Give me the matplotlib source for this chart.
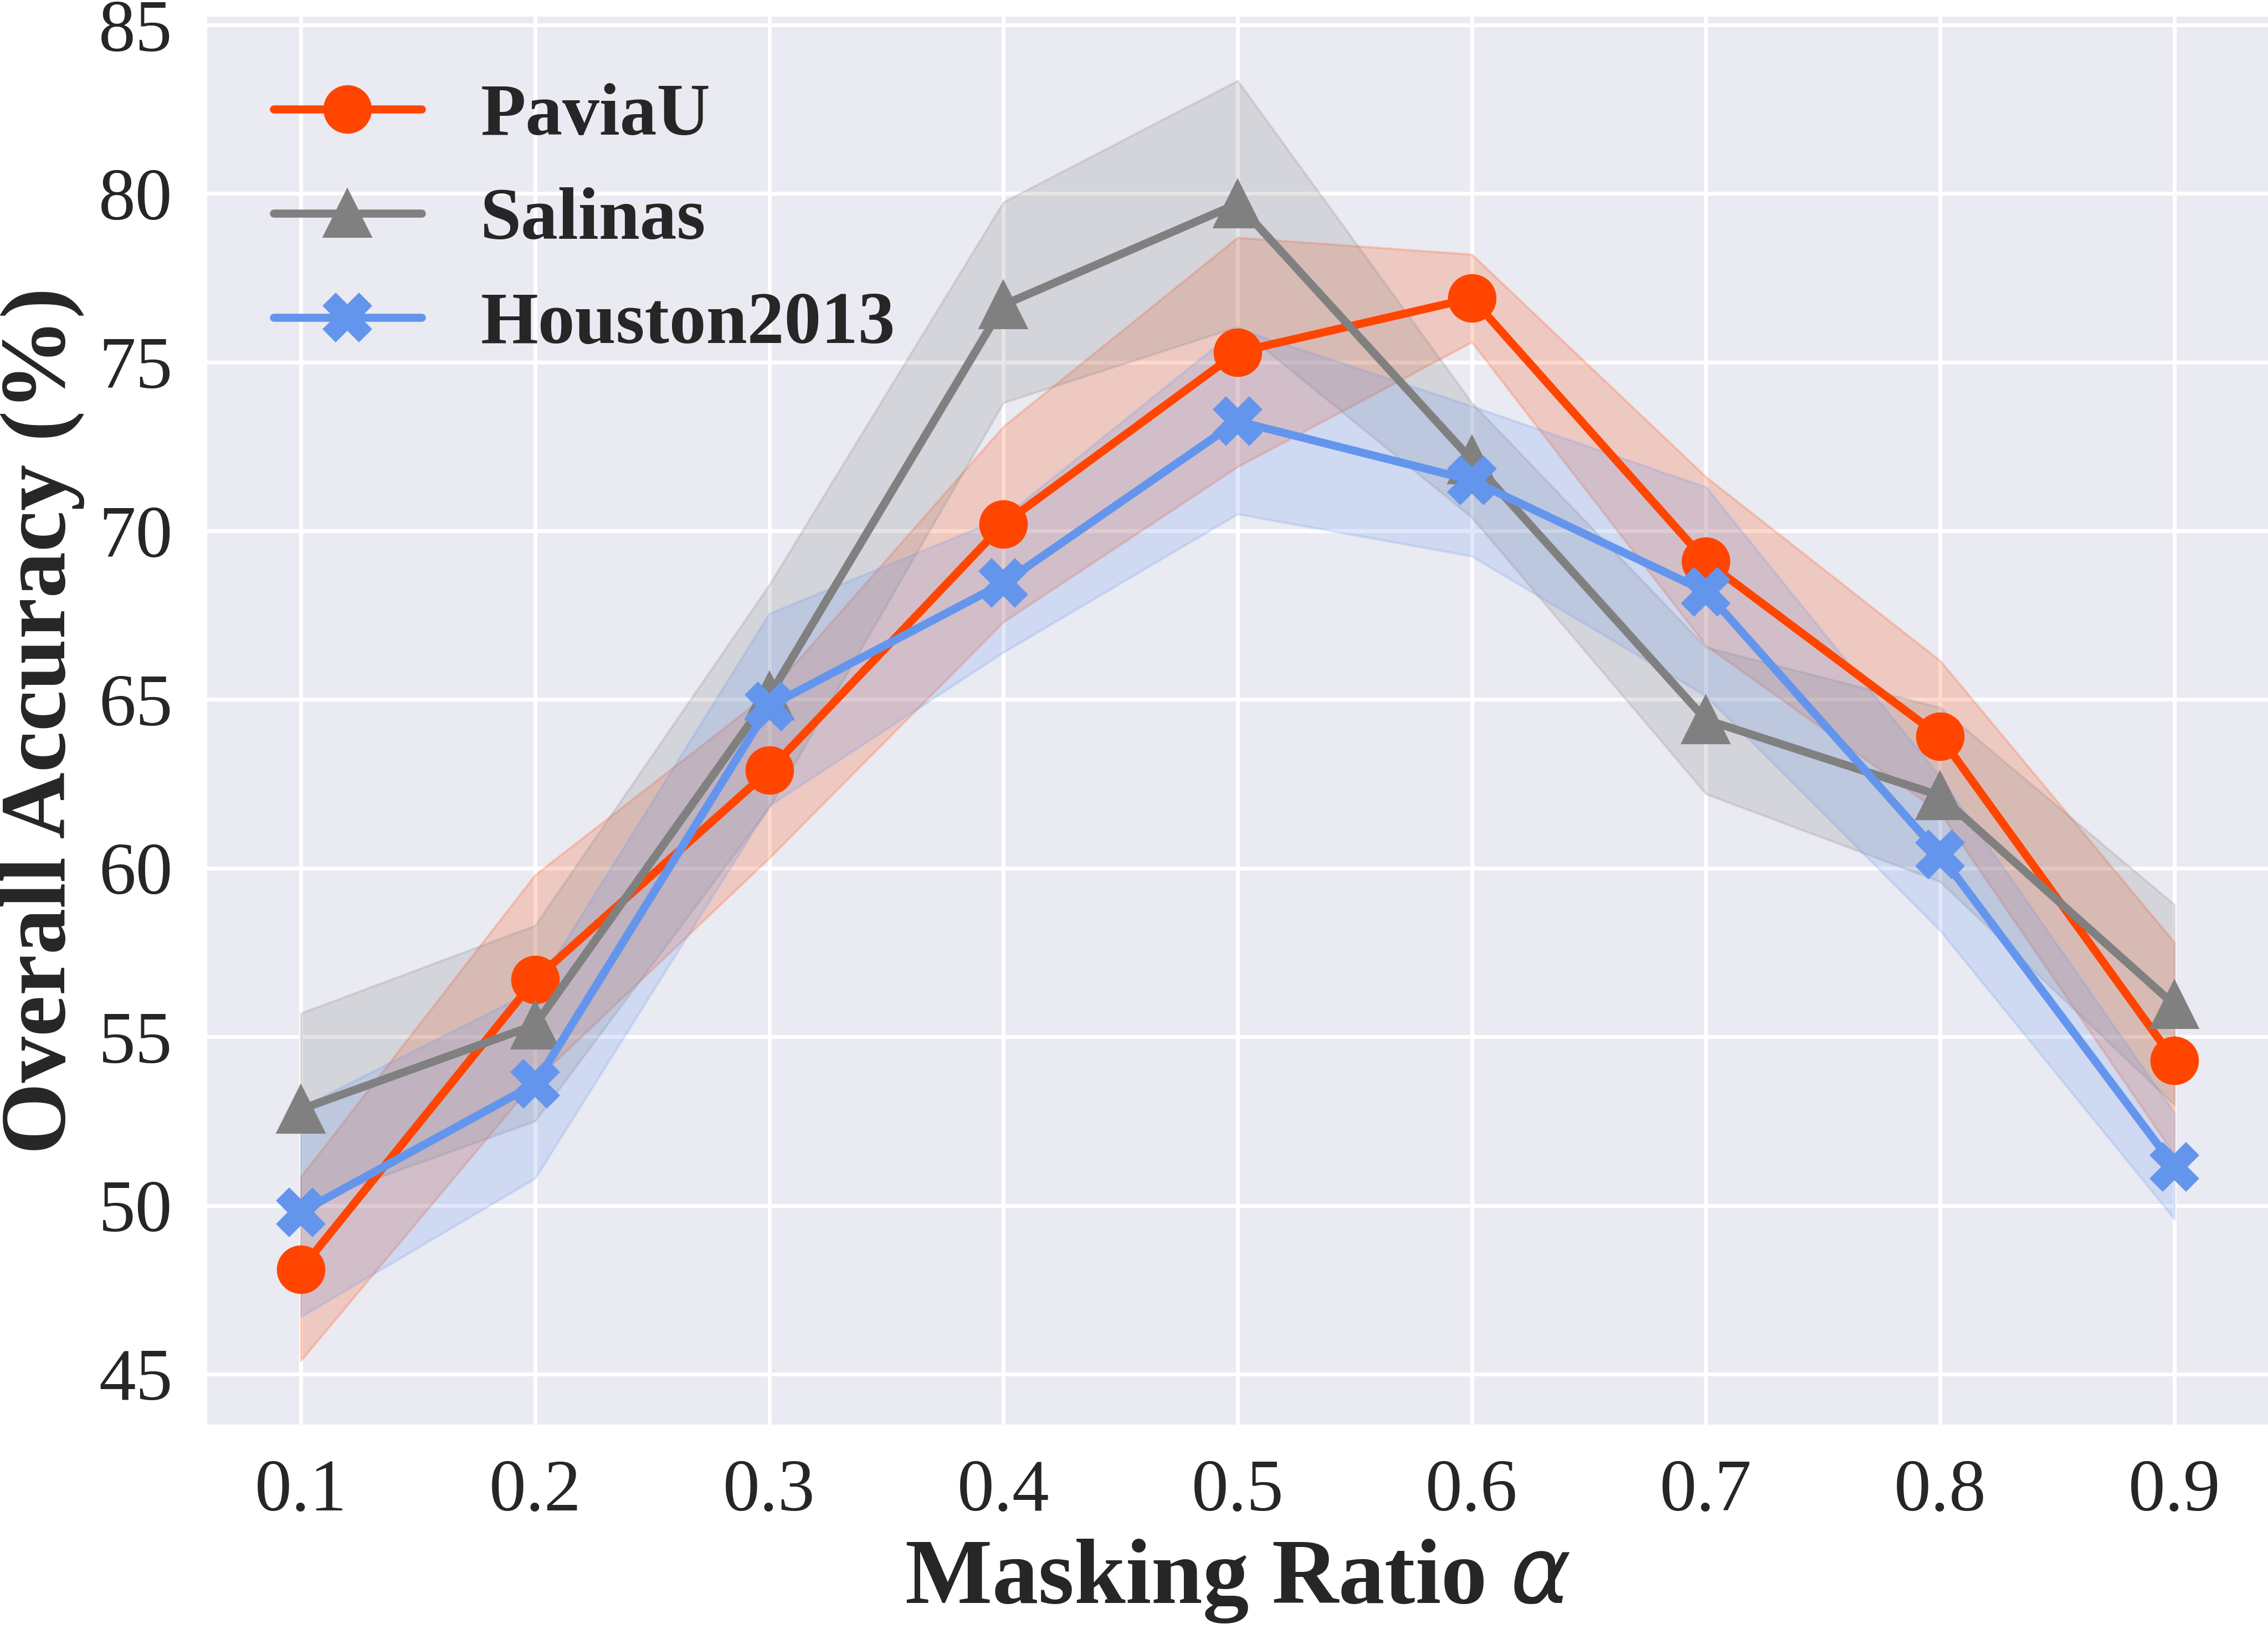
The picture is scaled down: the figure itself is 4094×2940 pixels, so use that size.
import matplotlib
matplotlib.use("Agg")
import matplotlib.pyplot as plt
import seaborn as sns

# masking ratio on x
ratios = [0.1, 0.2, 0.3, 0.4, 0.5, 0.6, 0.7, 0.8, 0.9]

# overall accuracy (%) mean and band limits
pavia_mean = [48.1, 56.7, 62.9, 70.2, 75.3, 76.9, 69.1, 63.9, 54.3]
pavia_upper = [50.85, 59.8, 65.2, 73.1, 78.7, 78.2, 71.6, 66.15, 57.8]
pavia_lower = [45.4, 53.7, 60.3, 67.3, 71.9, 75.6, 66.6, 61.65, 51.5]

salinas_mean = [52.85, 55.35, 65.1, 76.7, 79.7, 72.1, 64.4, 62.15, 55.95]
salinas_upper = [55.7, 58.3, 68.4, 79.75, 83.35, 73.8, 66.55, 64.76, 58.92]
salinas_lower = [50.0, 52.5, 61.8, 73.8, 76.05, 70.4, 62.2, 59.6, 52.98]

houston_mean = [49.8, 53.6, 64.8, 68.45, 73.25, 71.5, 68.2, 60.4, 51.15]
houston_upper = [52.9, 56.4, 67.55, 70.4, 76.0, 73.7, 71.3, 62.7, 52.75]
houston_lower = [46.7, 50.8, 61.85, 66.4, 70.5, 69.25, 65.1, 58.15, 49.6]

names = ["PaviaU", "Salinas", "Houston2013"]
colors = ["#FF4500", "#808080", "#6495ED"]
markers = ["o", "^", "X"]

sns.set_theme(style="darkgrid")
plt.rcParams["font.family"] = ["Liberation Serif", "DejaVu Serif"]
plt.rcParams["mathtext.fontset"] = "dejavusans"

W, H, DPI = 4094, 2940, 300
fig = plt.figure(figsize=(W / DPI, H / DPI), dpi=DPI)
ax = fig.add_axes([374 / W, 1 - 2571 / H, 1 - 374 / W, (2571 - 30) / H])
ax.set_facecolor("#EAEAF2")

series = [
    (pavia_mean, pavia_lower, pavia_upper),
    (salinas_mean, salinas_lower, salinas_upper),
    (houston_mean, houston_lower, houston_upper),
]
for (mean, low, high), name, c, m in zip(series, names, colors, markers):
    ax.plot(ratios, mean, color=c, marker=m, markersize=20, linewidth=3.5,
            label=name)
    ax.fill_between(ratios, low, high, color=c, alpha=0.2, linewidth=1)

ax.set_xticks(ratios)
ax.set_xticklabels(["%.1f" % r for r in ratios])
ax.set_yticks([45, 50, 55, 60, 65, 70, 75, 80, 85])
ax.grid(True, color="white", linewidth=1.7)
ax.tick_params(axis="both", labelsize=32, pad=15, length=0, colors="#262626")
for s in ax.spines.values():
    s.set_visible(False)

ax.set_xlabel(r"Masking Ratio $\alpha$", fontsize=40, fontweight="bold",
              color="#262626", labelpad=5)
ax.set_ylabel("Overall Accuracy (%)", fontsize=40, fontweight="bold",
              color="#262626", labelpad=6)

ax.legend(loc="upper left", frameon=False, handlelength=2.0,
          handletextpad=0.8, labelspacing=0.5,
          prop={"weight": "bold", "size": 32})

fig.savefig("out.png", dpi=DPI)
